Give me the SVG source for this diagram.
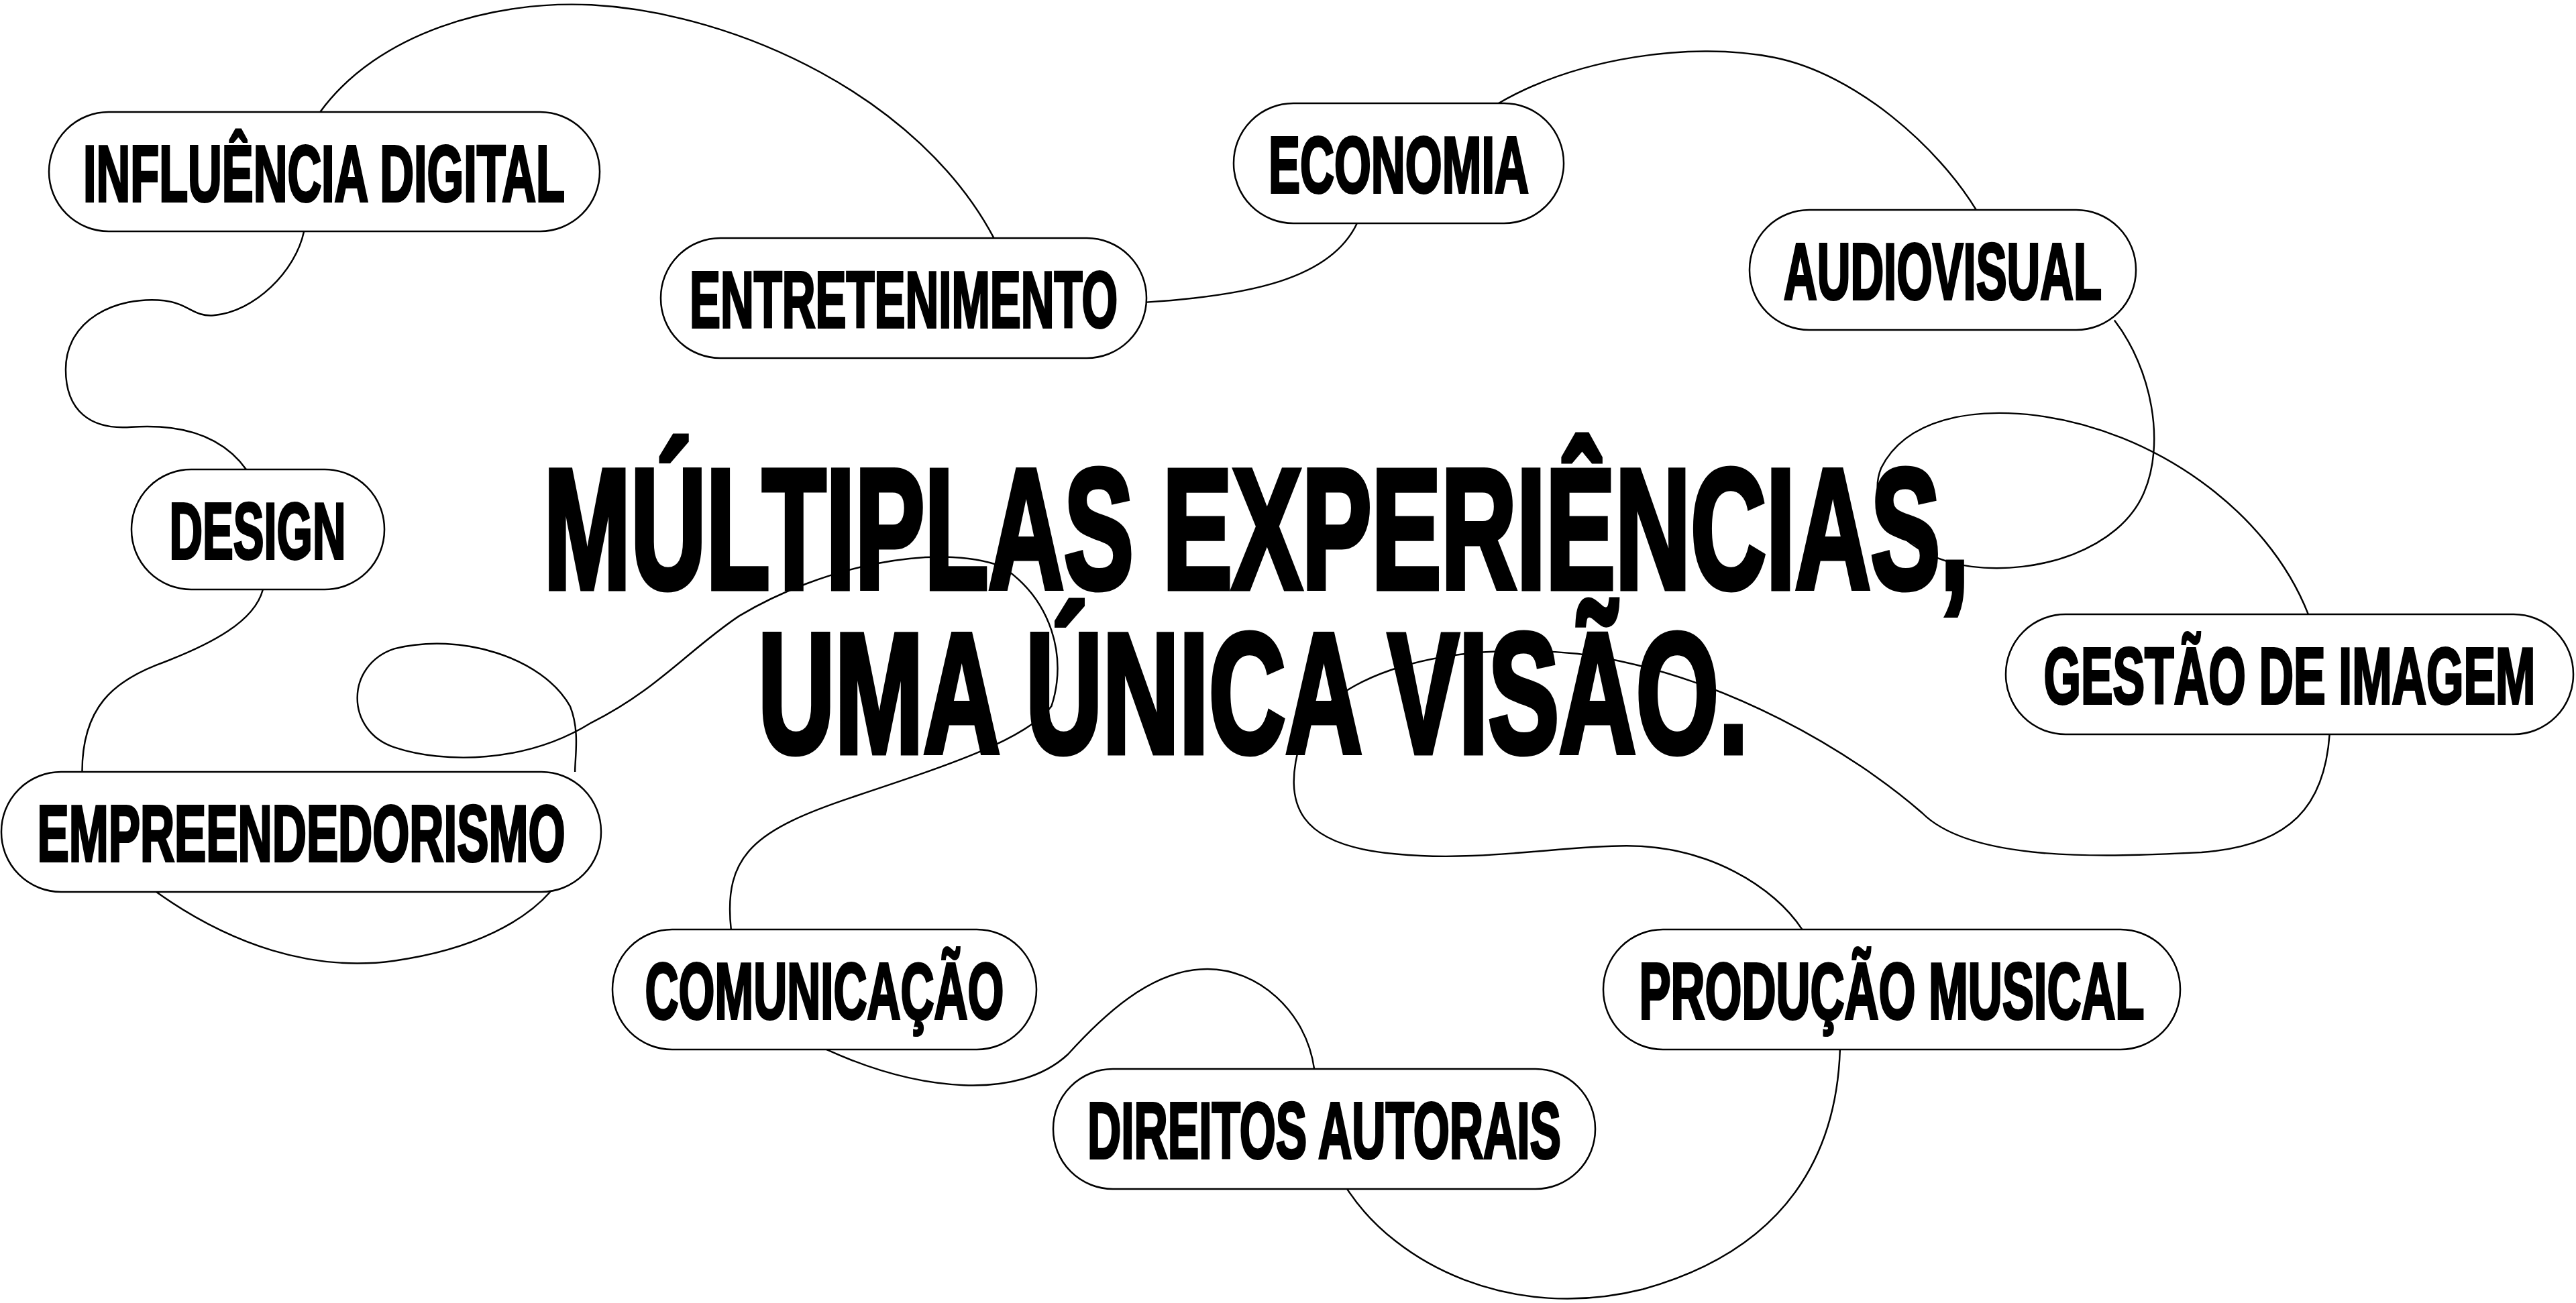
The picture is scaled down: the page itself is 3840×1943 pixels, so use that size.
<svg xmlns="http://www.w3.org/2000/svg" width="3840" height="1943" viewBox="0 0 3840 1943">
<style>
.pill{fill:#fff;stroke:#000;stroke-width:2.5}
.lbl{font-family:"Liberation Sans",Arial,sans-serif;font-weight:bold;font-size:118px;fill:#000;stroke:#000;stroke-width:4;text-anchor:middle}
.ttl{font-family:"Liberation Sans",Arial,sans-serif;font-weight:bold;font-size:255px;fill:#000;stroke:#000;stroke-width:9;text-anchor:middle}
.con path{fill:none;stroke:#000;stroke-width:1}
</style>
<rect width="3840" height="1943" fill="#fff"/>
<g id="connectors" class="con" transform="scale(2.449)">
<path d="M195,68 C230,20 300,0 360,3 C450,8 560,60 605,145"/>
<path d="M698,184 C760,180 810,170 826,136"/>
<path d="M912,63 C960,35 1030,25 1080,35 C1130,45 1180,90 1203,128"/>
<path d="M1287,195 C1310,225 1318,270 1305,300 C1290,335 1240,350 1200,345 C1160,340 1135,310 1145,285 C1160,255 1200,248 1240,253 C1310,262 1380,310 1405,374"/>
<path d="M1418,447 C1415,490 1395,515 1340,519 C1280,522 1200,525 1170,495 C1130,460 1050,410 960,398 C880,390 810,410 792,450 C780,490 790,515 850,520 C900,525 950,515 990,515 C1040,515 1080,540 1097,566"/>
<path d="M1120,639 C1118,700 1090,760 1000,785 C920,805 850,770 820,724"/>
<path d="M800,651 C795,615 765,590 735,590 C700,590 670,620 650,642 C620,670 560,665 503,639"/>
<path d="M445,566 C440,520 460,505 520,485 C580,465 625,450 640,430 C650,400 640,365 610,345 C570,330 500,345 450,375 C420,395 400,420 360,440 C320,465 270,465 240,455 C210,445 210,405 240,395 C280,385 330,400 347,430 C353,445 350,460 350,470"/>
<path d="M95,543 C140,575 190,592 240,585 C290,578 320,560 335,543"/>
<path d="M50,470 C50,430 70,415 95,405 C130,392 155,378 160,359"/>
<path d="M150,286 C135,265 110,258 80,260 C55,262 40,250 40,225 C40,195 70,180 100,183 C115,185 118,193 130,192 C155,190 180,165 185,141"/>
</g>
<g id="title">
<text class="ttl" x="1873" y="877" textLength="2125" lengthAdjust="spacingAndGlyphs">MÚLTIPLAS EXPERIÊNCIAS,</text>
<text class="ttl" x="1868" y="1122" textLength="1476" lengthAdjust="spacingAndGlyphs">UMA ÚNICA VISÃO.</text>
</g>
<g id="n1"><rect class="pill" x="73" y="167" width="821" height="178" rx="89"/><text class="lbl" x="483" y="300" textLength="718" lengthAdjust="spacingAndGlyphs">INFLUÊNCIA DIGITAL</text></g>
<g id="n2"><rect class="pill" x="985" y="355" width="724" height="179" rx="89"/><text class="lbl" x="1347" y="488" textLength="638" lengthAdjust="spacingAndGlyphs">ENTRETENIMENTO</text></g>
<g id="n3"><rect class="pill" x="1839" y="154" width="492" height="179" rx="89"/><text class="lbl" x="2085" y="287" textLength="388" lengthAdjust="spacingAndGlyphs">ECONOMIA</text></g>
<g id="n4"><rect class="pill" x="2608" y="313" width="576" height="179" rx="89"/><text class="lbl" x="2896" y="446" textLength="474" lengthAdjust="spacingAndGlyphs">AUDIOVISUAL</text></g>
<g id="n5"><rect class="pill" x="196" y="700" width="377" height="179" rx="89"/><text class="lbl" x="384" y="833" textLength="263" lengthAdjust="spacingAndGlyphs">DESIGN</text></g>
<g id="n6"><rect class="pill" x="2990" y="916" width="846" height="179" rx="89"/><text class="lbl" x="3413" y="1049" textLength="733" lengthAdjust="spacingAndGlyphs">GESTÃO DE IMAGEM</text></g>
<g id="n7"><rect class="pill" x="2" y="1151" width="894" height="179" rx="89"/><text class="lbl" x="449" y="1284" textLength="787" lengthAdjust="spacingAndGlyphs">EMPREENDEDORISMO</text></g>
<g id="n8"><rect class="pill" x="913" y="1386" width="632" height="179" rx="89"/><text class="lbl" x="1229" y="1519" textLength="535" lengthAdjust="spacingAndGlyphs">COMUNICAÇÃO</text></g>
<g id="n9"><rect class="pill" x="2390" y="1386" width="860" height="179" rx="89"/><text class="lbl" x="2820" y="1519" textLength="753" lengthAdjust="spacingAndGlyphs">PRODUÇÃO MUSICAL</text></g>
<g id="n10"><rect class="pill" x="1570" y="1594" width="808" height="179" rx="89"/><text class="lbl" x="1974" y="1727" textLength="706" lengthAdjust="spacingAndGlyphs">DIREITOS AUTORAIS</text></g>
</svg>
